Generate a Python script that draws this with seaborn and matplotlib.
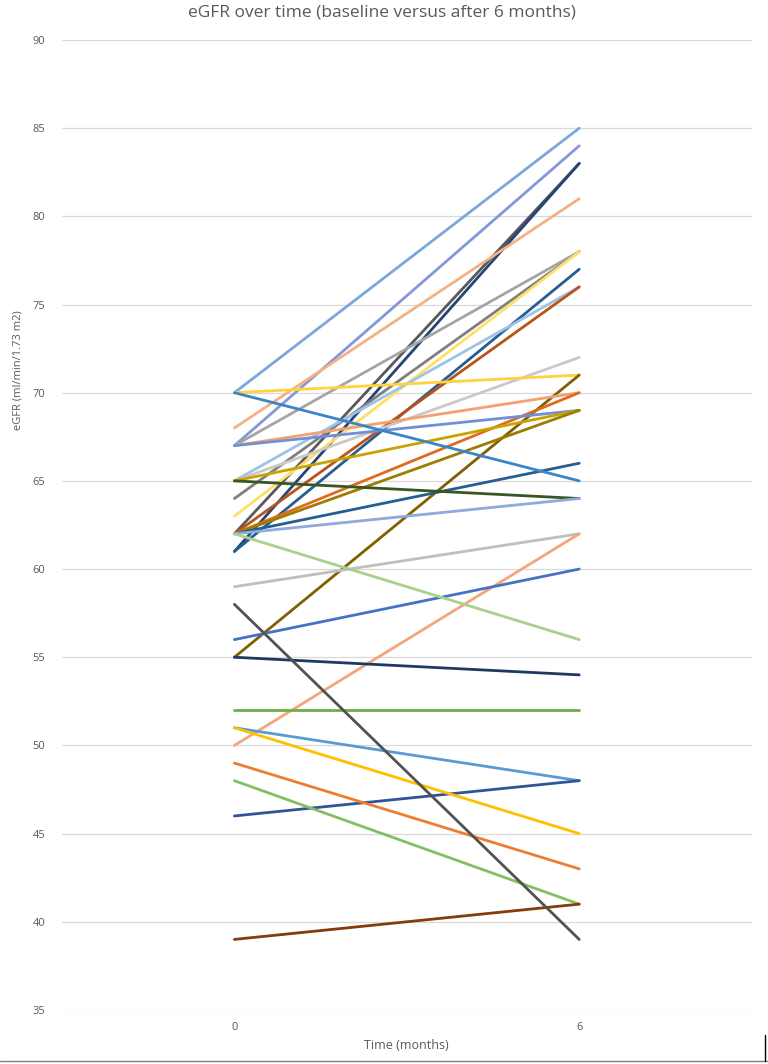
from matplotlib import pyplot as plt
from matplotlib.lines import Line2D
import pandas as pd
import seaborn as sns

# eGFR at baseline and after 6 months, one entry per patient
baseline = [70, 67, 62, 61, 68, 67, 64, 63, 61, 65, 62, 65,
            70, 55, 67, 62, 67, 65, 62, 62, 70, 65, 62, 59,
            50, 56, 62, 55, 52, 51, 46, 51, 49, 48, 39, 58]
month6 = [85, 84, 83, 83, 81, 78, 78, 78, 77, 76, 76, 72,
          71, 71, 70, 70, 69, 69, 69, 66, 65, 64, 64, 62,
          62, 60, 56, 54, 52, 48, 48, 45, 43, 41, 41, 39]
times = [0, 6]

palette = ["#7BA7DB", "#8497D8", "#595959", "#264478", "#F4B183", "#A5A5A5",
           "#7F7F7F", "#FFE066", "#255E91", "#9DC3E6", "#B85418", "#C9C9C9",
           "#FFD23F", "#7F6000", "#F4A070", "#E06A1E", "#6F8FD8", "#C9A400",
           "#9E7C00", "#255E91", "#3A85C8", "#375623", "#8FAADC", "#BFBFBF",
           "#F4A67A", "#4472C4", "#A9D18E", "#203864", "#70AD47", "#5B9BD5",
           "#2F5597", "#FFC000", "#ED7D31", "#85BD65", "#843C0C", "#525252"]

rows = []
for i, (b, m) in enumerate(zip(baseline, month6)):
    rows.append({"patient": i, "time": times[0], "egfr": b})
    rows.append({"patient": i, "time": times[1], "egfr": m})
df = pd.DataFrame(rows)

sns.set_style("white")
plt.rcParams['font.family'] = ['Open Sans', 'DejaVu Sans']
txt = "#595959"

fig = plt.figure(figsize=(7.68, 10.64), dpi=100)
ax = fig.add_axes([0.0807, 0.0508, 0.898, 0.9116])

sns.lineplot(data=df, x="time", y="egfr", hue="patient", palette=palette,
             legend=False, linewidth=2.0, ax=ax)

ax.set_xlim(-3, 9)
ax.set_ylim(35, 90)
ax.set_xticks([0, 6])
ax.set_yticks(range(35, 91, 5))
ax.yaxis.grid(True, color="#D9D9D9", linewidth=0.9)
ax.set_axisbelow(True)
for s in ax.spines.values():
    s.set_visible(False)
ax.tick_params(axis="both", length=0, labelsize=8, colors=txt)
ax.tick_params(axis="y", pad=12)
ax.tick_params(axis="x", pad=9)
ax.set_xlabel("Time (months)", fontsize=9, color=txt, labelpad=4)
ax.set_ylabel("")

fig.text(0.497, 0.988, "eGFR over time (baseline versus after 6 months)",
         ha="center", va="center", fontsize=12.5, color=txt)
fig.text(0.023, 1 - 370 / 1064, "eGFR (ml/min/1.73 m2)", rotation=90,
         ha="center", va="center", fontsize=8, color=txt)

# thin frame remnants at the bottom of the screenshot
fig.add_artist(Line2D([0, 1], [0.0025, 0.0025], color="#808080", linewidth=1))
fig.add_artist(Line2D([0.996, 0.996], [0.003, 0.027], color="#000000", linewidth=1))

plt.savefig("out.png", dpi=100)
